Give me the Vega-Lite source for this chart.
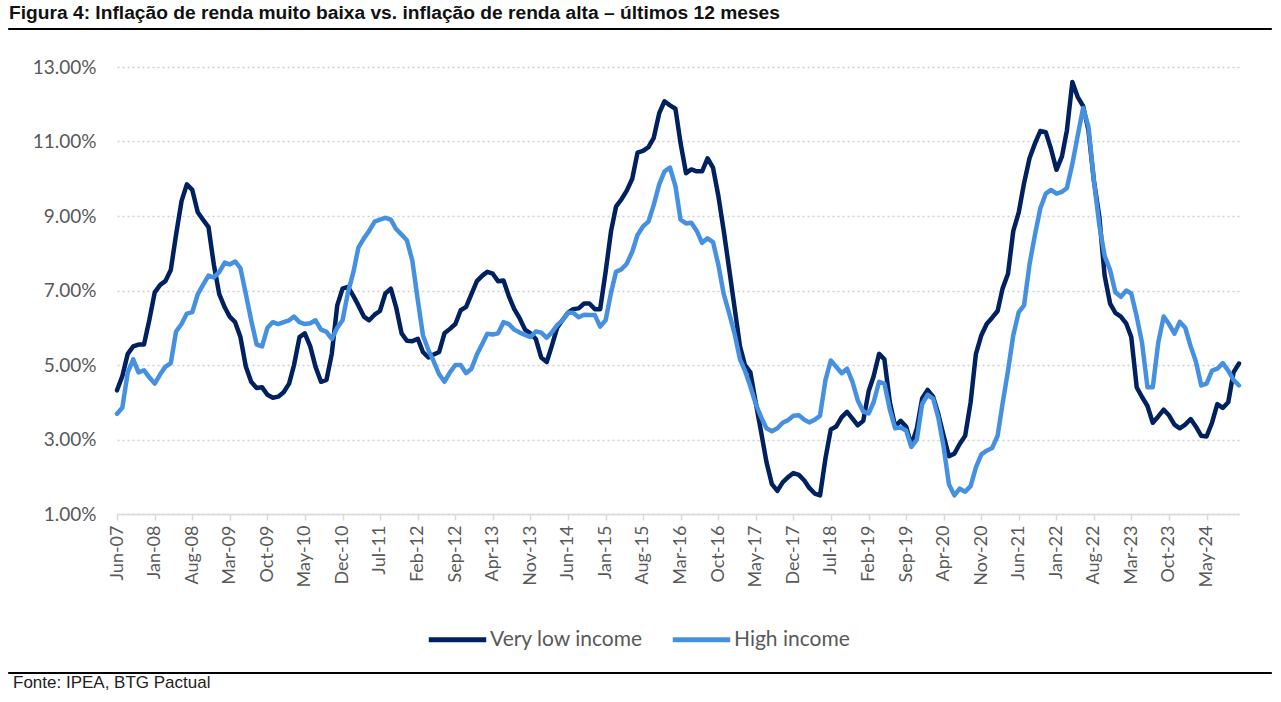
{
  "$schema": "https://vega.github.io/schema/vega-lite/v6.json",
  "background": "white",
  "padding": {"left": 7, "top": 3, "right": 11, "bottom": 0},
  "config": {"font": "Lato", "view": {"stroke": null}},
  "datasets": {
    "infl": [
      {"d":"2007-06","v":4.32,"h":3.69},{"d":"2007-07","v":4.7,"h":3.85},{"d":"2007-08","v":5.3,"h":4.8},{"d":"2007-09","v":5.5,"h":5.15},{"d":"2007-10","v":5.55,"h":4.8},{"d":"2007-11","v":5.55,"h":4.86},{"d":"2007-12","v":6.2,"h":4.67},
      {"d":"2008-01","v":6.95,"h":4.5},{"d":"2008-02","v":7.15,"h":4.75},{"d":"2008-03","v":7.25,"h":4.95},{"d":"2008-04","v":7.55,"h":5.05},{"d":"2008-05","v":8.5,"h":5.9},{"d":"2008-06","v":9.4,"h":6.1},{"d":"2008-07","v":9.85,"h":6.38},{"d":"2008-08","v":9.7,"h":6.42},{"d":"2008-09","v":9.1,"h":6.9},{"d":"2008-10","v":8.9,"h":7.15},{"d":"2008-11","v":8.7,"h":7.4},{"d":"2008-12","v":7.7,"h":7.35},
      {"d":"2009-01","v":6.9,"h":7.5},{"d":"2009-02","v":6.55,"h":7.75},{"d":"2009-03","v":6.3,"h":7.7},{"d":"2009-04","v":6.15,"h":7.78},{"d":"2009-05","v":5.75,"h":7.6},{"d":"2009-06","v":4.95,"h":6.9},{"d":"2009-07","v":4.55,"h":6.2},{"d":"2009-08","v":4.38,"h":5.55},{"d":"2009-09","v":4.4,"h":5.5},{"d":"2009-10","v":4.2,"h":6.0},{"d":"2009-11","v":4.12,"h":6.15},{"d":"2009-12","v":4.15,"h":6.1},
      {"d":"2010-01","v":4.27,"h":6.15},{"d":"2010-02","v":4.5,"h":6.2},{"d":"2010-03","v":5.0,"h":6.3},{"d":"2010-04","v":5.75,"h":6.15},{"d":"2010-05","v":5.85,"h":6.1},{"d":"2010-06","v":5.5,"h":6.12},{"d":"2010-07","v":4.95,"h":6.2},{"d":"2010-08","v":4.55,"h":5.95},{"d":"2010-09","v":4.6,"h":5.89},{"d":"2010-10","v":5.3,"h":5.7},{"d":"2010-11","v":6.6,"h":6.0},{"d":"2010-12","v":7.05,"h":6.2},
      {"d":"2011-01","v":7.1,"h":6.95},{"d":"2011-02","v":6.85,"h":7.5},{"d":"2011-03","v":6.6,"h":8.15},{"d":"2011-04","v":6.3,"h":8.4},{"d":"2011-05","v":6.2,"h":8.6},{"d":"2011-06","v":6.35,"h":8.85},{"d":"2011-07","v":6.45,"h":8.9},{"d":"2011-08","v":6.92,"h":8.95},{"d":"2011-09","v":7.05,"h":8.9},{"d":"2011-10","v":6.55,"h":8.65},{"d":"2011-11","v":5.85,"h":8.5},{"d":"2011-12","v":5.65,"h":8.35},
      {"d":"2012-01","v":5.64,"h":7.8},{"d":"2012-02","v":5.7,"h":6.74},{"d":"2012-03","v":5.35,"h":5.8},{"d":"2012-04","v":5.2,"h":5.4},{"d":"2012-05","v":5.28,"h":5.1},{"d":"2012-06","v":5.35,"h":4.75},{"d":"2012-07","v":5.85,"h":4.55},{"d":"2012-08","v":5.97,"h":4.8},{"d":"2012-09","v":6.1,"h":5.0},{"d":"2012-10","v":6.47,"h":5.0},{"d":"2012-11","v":6.56,"h":4.78},{"d":"2012-12","v":6.9,"h":4.9},
      {"d":"2013-01","v":7.25,"h":5.28},{"d":"2013-02","v":7.4,"h":5.57},{"d":"2013-03","v":7.5,"h":5.84},{"d":"2013-04","v":7.45,"h":5.82},{"d":"2013-05","v":7.25,"h":5.85},{"d":"2013-06","v":7.27,"h":6.15},{"d":"2013-07","v":6.85,"h":6.1},{"d":"2013-08","v":6.5,"h":5.95},{"d":"2013-09","v":6.25,"h":5.87},{"d":"2013-10","v":5.95,"h":5.81},{"d":"2013-11","v":5.85,"h":5.75},{"d":"2013-12","v":5.7,"h":5.9},
      {"d":"2014-01","v":5.2,"h":5.87},{"d":"2014-02","v":5.08,"h":5.73},{"d":"2014-03","v":5.5,"h":5.87},{"d":"2014-04","v":6.0,"h":6.07},{"d":"2014-05","v":6.2,"h":6.2},{"d":"2014-06","v":6.4,"h":6.4},{"d":"2014-07","v":6.5,"h":6.4},{"d":"2014-08","v":6.52,"h":6.28},{"d":"2014-09","v":6.65,"h":6.35},{"d":"2014-10","v":6.65,"h":6.34},{"d":"2014-11","v":6.5,"h":6.34},{"d":"2014-12","v":6.5,"h":6.03},
      {"d":"2015-01","v":7.5,"h":6.2},{"d":"2015-02","v":8.6,"h":6.95},{"d":"2015-03","v":9.25,"h":7.5},{"d":"2015-04","v":9.45,"h":7.57},{"d":"2015-05","v":9.68,"h":7.72},{"d":"2015-06","v":10.0,"h":8.04},{"d":"2015-07","v":10.7,"h":8.49},{"d":"2015-08","v":10.75,"h":8.72},{"d":"2015-09","v":10.85,"h":8.85},{"d":"2015-10","v":11.1,"h":9.3},{"d":"2015-11","v":11.76,"h":9.85},{"d":"2015-12","v":12.08,"h":10.2},
      {"d":"2016-01","v":11.97,"h":10.3},{"d":"2016-02","v":11.88,"h":9.8},{"d":"2016-03","v":10.96,"h":8.9},{"d":"2016-04","v":10.15,"h":8.8},{"d":"2016-05","v":10.25,"h":8.82},{"d":"2016-06","v":10.2,"h":8.6},{"d":"2016-07","v":10.2,"h":8.28},{"d":"2016-08","v":10.55,"h":8.4},{"d":"2016-09","v":10.3,"h":8.3},{"d":"2016-10","v":9.55,"h":7.7},{"d":"2016-11","v":8.6,"h":6.9},{"d":"2016-12","v":7.6,"h":6.4},
      {"d":"2017-01","v":6.55,"h":5.85},{"d":"2017-02","v":5.5,"h":5.15},{"d":"2017-03","v":5.0,"h":4.85},{"d":"2017-04","v":4.8,"h":4.42},{"d":"2017-05","v":4.0,"h":3.96},{"d":"2017-06","v":3.2,"h":3.6},{"d":"2017-07","v":2.4,"h":3.3},{"d":"2017-08","v":1.8,"h":3.22},{"d":"2017-09","v":1.62,"h":3.3},{"d":"2017-10","v":1.85,"h":3.45},{"d":"2017-11","v":1.99,"h":3.52},{"d":"2017-12","v":2.1,"h":3.64},
      {"d":"2018-01","v":2.05,"h":3.65},{"d":"2018-02","v":1.9,"h":3.53},{"d":"2018-03","v":1.7,"h":3.46},{"d":"2018-04","v":1.55,"h":3.53},{"d":"2018-05","v":1.5,"h":3.64},{"d":"2018-06","v":2.5,"h":4.6},{"d":"2018-07","v":3.27,"h":5.12},{"d":"2018-08","v":3.35,"h":4.95},{"d":"2018-09","v":3.6,"h":4.78},{"d":"2018-10","v":3.74,"h":4.9},{"d":"2018-11","v":3.56,"h":4.55},{"d":"2018-12","v":3.38,"h":4.05},
      {"d":"2019-01","v":3.5,"h":3.75},{"d":"2019-02","v":4.3,"h":3.7},{"d":"2019-03","v":4.7,"h":4.0},{"d":"2019-04","v":5.3,"h":4.55},{"d":"2019-05","v":5.15,"h":4.5},{"d":"2019-06","v":4.0,"h":3.8},{"d":"2019-07","v":3.35,"h":3.3},{"d":"2019-08","v":3.5,"h":3.32},{"d":"2019-09","v":3.35,"h":3.24},{"d":"2019-10","v":2.85,"h":2.8},{"d":"2019-11","v":3.3,"h":3.0},{"d":"2019-12","v":4.1,"h":3.95},
      {"d":"2020-01","v":4.33,"h":4.2},{"d":"2020-02","v":4.15,"h":4.1},{"d":"2020-03","v":3.7,"h":3.6},{"d":"2020-04","v":3.1,"h":2.8},{"d":"2020-05","v":2.55,"h":1.8},{"d":"2020-06","v":2.62,"h":1.5},{"d":"2020-07","v":2.88,"h":1.68},{"d":"2020-08","v":3.1,"h":1.6},{"d":"2020-09","v":4.0,"h":1.75},{"d":"2020-10","v":5.3,"h":2.25},{"d":"2020-11","v":5.8,"h":2.6},{"d":"2020-12","v":6.1,"h":2.7},
      {"d":"2021-01","v":6.27,"h":2.77},{"d":"2021-02","v":6.45,"h":3.1},{"d":"2021-03","v":7.05,"h":3.96},{"d":"2021-04","v":7.45,"h":4.85},{"d":"2021-05","v":8.6,"h":5.8},{"d":"2021-06","v":9.1,"h":6.42},{"d":"2021-07","v":9.88,"h":6.6},{"d":"2021-08","v":10.55,"h":7.7},{"d":"2021-09","v":10.95,"h":8.5},{"d":"2021-10","v":11.28,"h":9.2},{"d":"2021-11","v":11.25,"h":9.6},{"d":"2021-12","v":10.8,"h":9.7},
      {"d":"2022-01","v":10.24,"h":9.6},{"d":"2022-02","v":10.6,"h":9.65},{"d":"2022-03","v":11.3,"h":9.75},{"d":"2022-04","v":12.6,"h":10.4},{"d":"2022-05","v":12.2,"h":11.15},{"d":"2022-06","v":11.95,"h":11.9},{"d":"2022-07","v":11.3,"h":11.4},{"d":"2022-08","v":9.95,"h":9.95},{"d":"2022-09","v":8.98,"h":8.75},{"d":"2022-10","v":7.4,"h":7.93},{"d":"2022-11","v":6.65,"h":7.55},{"d":"2022-12","v":6.4,"h":6.95},
      {"d":"2023-01","v":6.3,"h":6.83},{"d":"2023-02","v":6.11,"h":7.0},{"d":"2023-03","v":5.75,"h":6.92},{"d":"2023-04","v":4.4,"h":6.3},{"d":"2023-05","v":4.14,"h":5.6},{"d":"2023-06","v":3.9,"h":4.4},{"d":"2023-07","v":3.45,"h":4.4},{"d":"2023-08","v":3.62,"h":5.6},{"d":"2023-09","v":3.8,"h":6.3},{"d":"2023-10","v":3.65,"h":6.1},{"d":"2023-11","v":3.4,"h":5.84},{"d":"2023-12","v":3.3,"h":6.16},
      {"d":"2024-01","v":3.4,"h":6.0},{"d":"2024-02","v":3.55,"h":5.5},{"d":"2024-03","v":3.35,"h":5.1},{"d":"2024-04","v":3.1,"h":4.45},{"d":"2024-05","v":3.08,"h":4.5},{"d":"2024-06","v":3.45,"h":4.85},{"d":"2024-07","v":3.95,"h":4.9},{"d":"2024-08","v":3.85,"h":5.05},{"d":"2024-09","v":4.0,"h":4.85},{"d":"2024-10","v":4.8,"h":4.6},{"d":"2024-11","v":5.04,"h":4.45}
    ]
  },
  "columns": 1,
  "align": "none",
  "spacing": 28,
  "resolve": {"scale": {"color": "independent"}, "legend": {"color": "independent"}},
  "concat": [
    {
      "width": 1263,
      "height": 1,
      "data": {"values": []},
      "mark": "rule",
      "encoding": {},
      "view": {"stroke": "#000000", "strokeWidth": 1, "fill": "#000000"},
      "title": {
        "text": "Figura 4: Inflação de renda muito baixa vs. inflação de renda alta – últimos 12 meses",
        "anchor": "start",
        "font": "Liberation Sans",
        "fontSize": 19.2,
        "fontWeight": "bold",
        "color": "#111111",
        "offset": 5,
        "dx": 1
      }
    },
    {
      "columns": 1,
      "align": "none",
      "spacing": 21,
      "resolve": {"scale": {"color": "independent"}, "legend": {"color": "independent"}},
      "concat": [
        {
          "width": 1231,
          "height": 447,
          "data": {"name": "infl"},
          "encoding": {
            "x": {
              "field": "d",
              "type": "temporal",
              "scale": {
                "type": "utc",
                "range": [109, 1231],
                "domain": [
                  {"year": 2007, "month": 6, "date": 1, "utc": true},
                  {"year": 2024, "month": 11, "date": 1, "utc": true}
                ]
              },
              "axis": {
                "title": null,
                "values": [
                  {"year": 2007, "month": 6, "date": 1, "utc": true},
                  {"year": 2008, "month": 1, "date": 1, "utc": true},
                  {"year": 2008, "month": 8, "date": 1, "utc": true},
                  {"year": 2009, "month": 3, "date": 1, "utc": true},
                  {"year": 2009, "month": 10, "date": 1, "utc": true},
                  {"year": 2010, "month": 5, "date": 1, "utc": true},
                  {"year": 2010, "month": 12, "date": 1, "utc": true},
                  {"year": 2011, "month": 7, "date": 1, "utc": true},
                  {"year": 2012, "month": 2, "date": 1, "utc": true},
                  {"year": 2012, "month": 9, "date": 1, "utc": true},
                  {"year": 2013, "month": 4, "date": 1, "utc": true},
                  {"year": 2013, "month": 11, "date": 1, "utc": true},
                  {"year": 2014, "month": 6, "date": 1, "utc": true},
                  {"year": 2015, "month": 1, "date": 1, "utc": true},
                  {"year": 2015, "month": 8, "date": 1, "utc": true},
                  {"year": 2016, "month": 3, "date": 1, "utc": true},
                  {"year": 2016, "month": 10, "date": 1, "utc": true},
                  {"year": 2017, "month": 5, "date": 1, "utc": true},
                  {"year": 2017, "month": 12, "date": 1, "utc": true},
                  {"year": 2018, "month": 7, "date": 1, "utc": true},
                  {"year": 2019, "month": 2, "date": 1, "utc": true},
                  {"year": 2019, "month": 9, "date": 1, "utc": true},
                  {"year": 2020, "month": 4, "date": 1, "utc": true},
                  {"year": 2020, "month": 11, "date": 1, "utc": true},
                  {"year": 2021, "month": 6, "date": 1, "utc": true},
                  {"year": 2022, "month": 1, "date": 1, "utc": true},
                  {"year": 2022, "month": 8, "date": 1, "utc": true},
                  {"year": 2023, "month": 3, "date": 1, "utc": true},
                  {"year": 2023, "month": 10, "date": 1, "utc": true},
                  {"year": 2024, "month": 5, "date": 1, "utc": true}
                ],
                "labelExpr": "utcFormat(datum.value, '%b-%y')",
                "labelAngle": -90,
                "labelFont": "Lato",
                "labelFontSize": 18,
                "labelColor": "#595959",
                "labelPadding": 5,
                "labelOverlap": false,
                "labelFlush": false,
                "tickSize": 6,
                "tickColor": "#d9d9d9",
                "tickWidth": 1.5,
                "domainColor": "#d9d9d9",
                "domainWidth": 1.5,
                "grid": false
              }
            }
          },
          "layer": [
            {
              "mark": {"type": "line", "strokeWidth": 4.5, "strokeJoin": "round", "strokeCap": "round"},
              "encoding": {
                "y": {
                  "field": "v",
                  "type": "quantitative",
                  "scale": {"domain": [1, 13], "nice": false, "zero": false},
                  "axis": {
                    "title": null,
                    "values": [1, 3, 5, 7, 9, 11, 13],
                    "labelExpr": "format(datum.value, '.2f') + '%'",
                    "labelFont": "Lato",
                    "labelFontSize": 19,
                    "labelColor": "#595959",
                    "labelPadding": 21,
                    "offset": -109,
                    "domain": false,
                    "ticks": false,
                    "grid": true,
                    "gridDash": [2, 3],
                    "gridColor": "#d0d0d0",
                    "gridWidth": 1.5
                  }
                },
                "color": {
                  "datum": "Very low income",
                  "type": "nominal",
                  "scale": {"domain": ["Very low income", "High income"], "range": ["#002060", "#4590e0"]},
                  "legend": {
                    "orient": "none",
                    "legendX": 418,
                    "legendY": 541,
                    "direction": "horizontal",
                    "title": null,
                    "symbolType": "stroke",
                    "symbolStrokeWidth": 5,
                    "symbolSize": 3300,
                    "labelFont": "Lato",
                    "labelFontSize": 21,
                    "labelColor": "#595959",
                    "labelOffset": 1,
                    "columnPadding": 18
                  }
                }
              }
            },
            {
              "mark": {"type": "line", "strokeWidth": 4.5, "strokeJoin": "round", "strokeCap": "round"},
              "encoding": {
                "y": {"field": "h", "type": "quantitative"},
                "color": {"datum": "High income", "type": "nominal"}
              }
            }
          ]
        },
        {
          "width": 1263,
          "height": 1,
          "data": {"values": []},
          "mark": "rule",
          "encoding": {},
          "view": {"stroke": "#000000", "strokeWidth": 1, "fill": "#000000"},
          "title": {
            "text": "Fonte: IPEA, BTG Pactual",
            "orient": "bottom",
            "anchor": "start",
            "font": "Liberation Sans",
            "fontSize": 17,
            "fontWeight": "normal",
            "color": "#222222",
            "offset": 2,
            "dx": 5
          }
        }
      ]
    }
  ]
}
